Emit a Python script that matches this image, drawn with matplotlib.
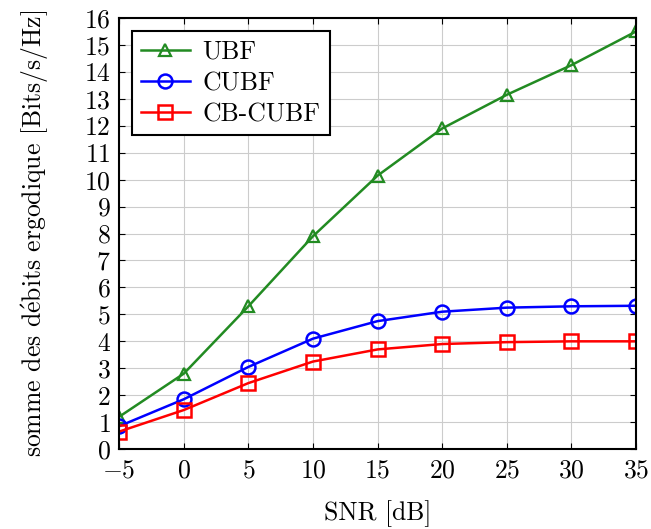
import matplotlib
matplotlib.use('Agg')
import matplotlib.pyplot as plt

# Data
snr = [-5, 0, 5, 10, 15, 20, 25, 30, 35]
ubf = [1.2, 2.8, 5.3, 7.9, 10.15, 11.9, 13.15, 14.25, 15.5]
cubf = [0.85, 1.85, 3.05, 4.1, 4.75, 5.1, 5.25, 5.3, 5.32]
cb_cubf = [0.65, 1.45, 2.45, 3.25, 3.7, 3.9, 3.97, 4.0, 4.0]

plt.rcParams['font.family'] = ['cmr10', 'DejaVu Serif']
plt.rcParams['mathtext.fontset'] = 'cm'
plt.rcParams['axes.formatter.use_mathtext'] = True
plt.rcParams['font.size'] = 18.5

fig = plt.figure(figsize=(6.51, 5.29), dpi=100)
ax = fig.add_axes([0.183, 0.151, 0.794, 0.815])

ax.plot(snr, ubf, color='#228b22', marker='^', markersize=9, markerfacecolor='none',
        markeredgewidth=1.6, linewidth=1.8, label='UBF')
ax.plot(snr, cubf, color='blue', marker='o', markersize=10, markerfacecolor='none',
        markeredgewidth=1.8, linewidth=1.8, label='CUBF')
ax.plot(snr, cb_cubf, color='red', marker='s', markersize=10, markerfacecolor='none',
        markeredgewidth=1.8, linewidth=1.8, label='CB-CUBF')

ax.set_xlim(-5, 35)
ax.set_ylim(0, 16)
ax.set_xticks(range(-5, 36, 5))
ax.set_yticks(range(0, 17))
ax.grid(True, color='#cccccc', linewidth=0.8)
ax.tick_params(direction='in', top=True, right=True, length=4, pad=6)
ax.tick_params(axis='x', pad=7)
for s in ax.spines.values():
    s.set_linewidth(1.5)

ax.set_xlabel('SNR [dB]', labelpad=13)
ax.set_ylabel(r'somme des d$\acute{\mathrm{e}}$bits ergodique [Bits/s/Hz]', labelpad=24)

leg = ax.legend(loc='upper left', fancybox=False, edgecolor='black', framealpha=1,
                handlelength=1.9, handletextpad=0.5, borderaxespad=0.5,
                labelspacing=0.3, borderpad=0.35, bbox_to_anchor=(0.0, 1.0))
leg.get_frame().set_linewidth(1.5)

fig.savefig('out.png', dpi=100)
